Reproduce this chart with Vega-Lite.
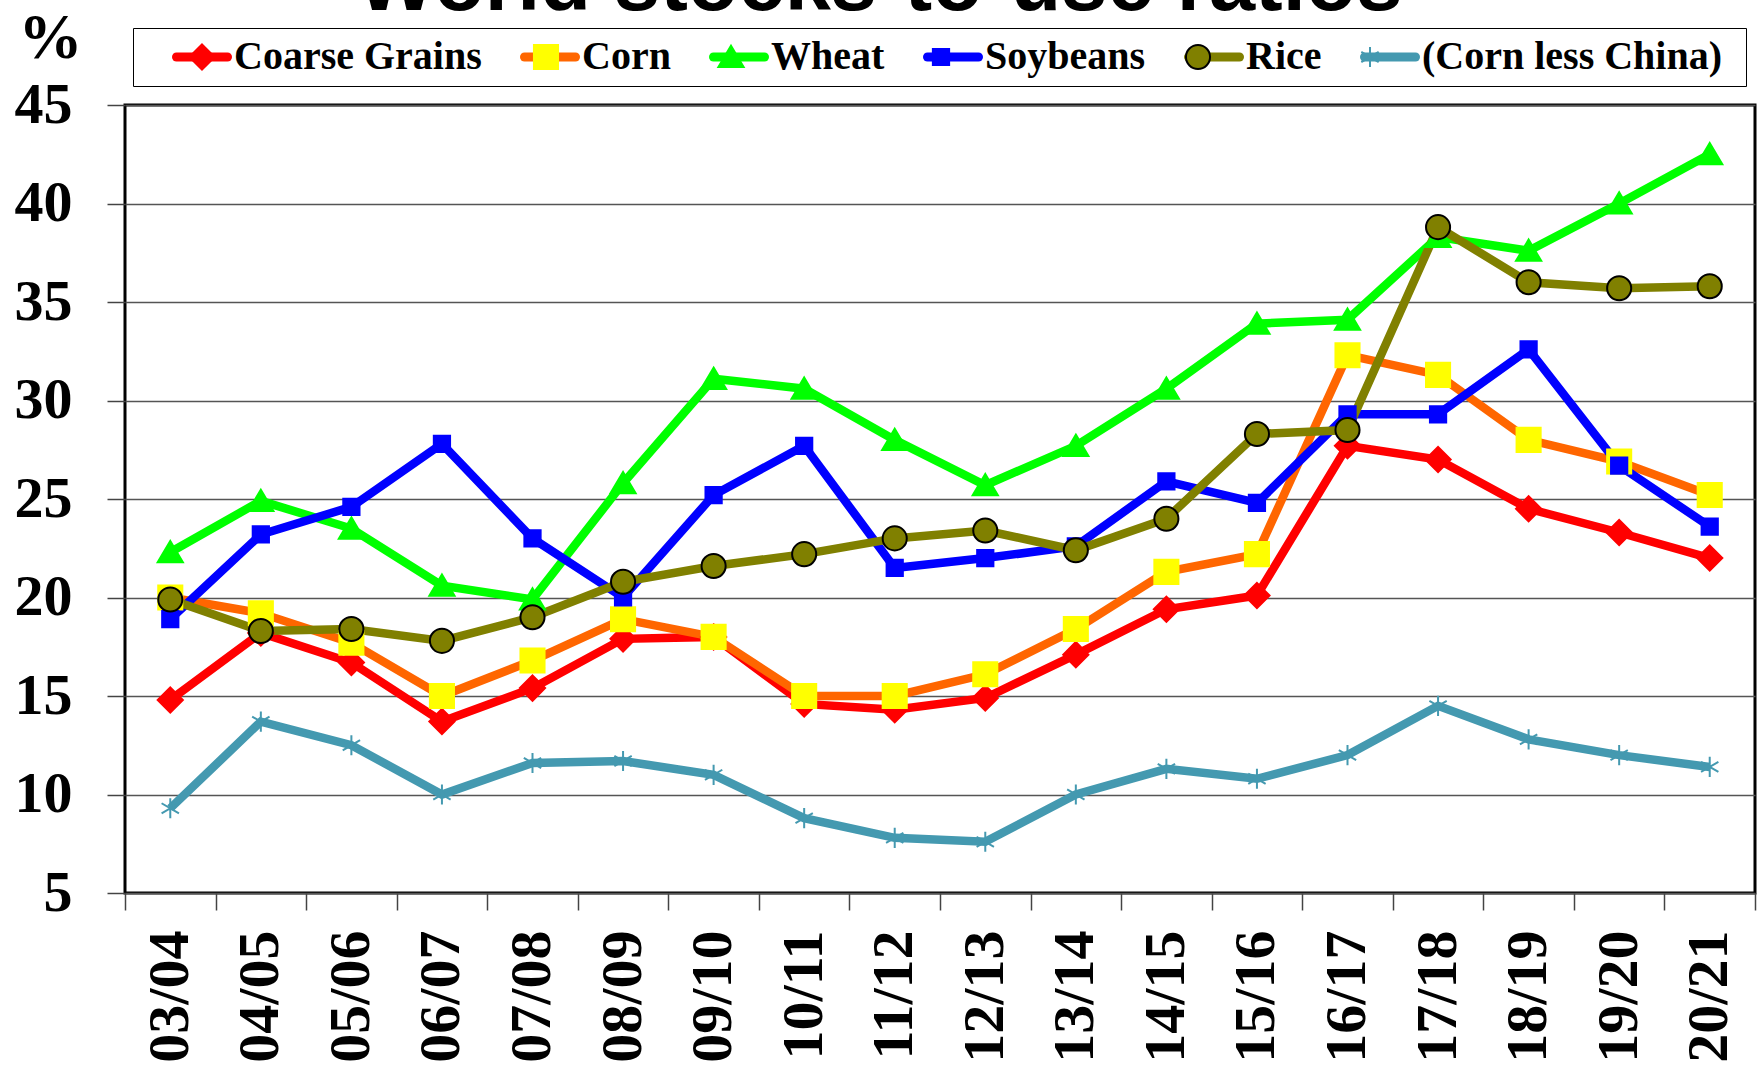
{
  "$schema": "https://vega.github.io/schema/vega-lite/v6.json",
  "width": 1630,
  "height": 788,
  "autosize": {"type": "none"},
  "padding": {"left": 125, "top": 105, "right": 7, "bottom": 177},
  "background": "white",
  "config": {"view": {"stroke": "#000", "strokeWidth": 3}},
  "title": {"text": "World stocks-to-use ratios", "font": "Liberation Sans", "fontSize": 83, "fontWeight": "bold", "color": "#000", "anchor": "middle", "dx": -60, "dy": 7, "baseline": "alphabetic", "offset": -80},
  "data": {"values": [
    {"season": "03/04", "Coarse Grains": 14.8, "Corn": 20.0, "Wheat": 22.3, "Soybeans": 18.9, "Rice": 19.9, "(Corn less China)": 9.3},
    {"season": "04/05", "Coarse Grains": 18.2, "Corn": 19.2, "Wheat": 24.9, "Soybeans": 23.2, "Rice": 18.3, "(Corn less China)": 13.7},
    {"season": "05/06", "Coarse Grains": 16.7, "Corn": 17.7, "Wheat": 23.5, "Soybeans": 24.6, "Rice": 18.4, "(Corn less China)": 12.5},
    {"season": "06/07", "Coarse Grains": 13.7, "Corn": 15.0, "Wheat": 20.6, "Soybeans": 27.8, "Rice": 17.8, "(Corn less China)": 10.0},
    {"season": "07/08", "Coarse Grains": 15.4, "Corn": 16.8, "Wheat": 19.9, "Soybeans": 23.0, "Rice": 19.0, "(Corn less China)": 11.6},
    {"season": "08/09", "Coarse Grains": 17.9, "Corn": 18.9, "Wheat": 25.8, "Soybeans": 20.0, "Rice": 20.8, "(Corn less China)": 11.7},
    {"season": "09/10", "Coarse Grains": 18.0, "Corn": 18.0, "Wheat": 31.1, "Soybeans": 25.2, "Rice": 21.6, "(Corn less China)": 11.0},
    {"season": "10/11", "Coarse Grains": 14.6, "Corn": 15.0, "Wheat": 30.6, "Soybeans": 27.7, "Rice": 22.2, "(Corn less China)": 8.8},
    {"season": "11/12", "Coarse Grains": 14.3, "Corn": 15.0, "Wheat": 28.0, "Soybeans": 21.5, "Rice": 23.0, "(Corn less China)": 7.8},
    {"season": "12/13", "Coarse Grains": 14.9, "Corn": 16.1, "Wheat": 25.7, "Soybeans": 22.0, "Rice": 23.4, "(Corn less China)": 7.6},
    {"season": "13/14", "Coarse Grains": 17.1, "Corn": 18.4, "Wheat": 27.7, "Soybeans": 22.6, "Rice": 22.4, "(Corn less China)": 10.0},
    {"season": "14/15", "Coarse Grains": 19.4, "Corn": 21.3, "Wheat": 30.6, "Soybeans": 25.9, "Rice": 24.0, "(Corn less China)": 11.3},
    {"season": "15/16", "Coarse Grains": 20.1, "Corn": 22.2, "Wheat": 33.9, "Soybeans": 24.8, "Rice": 28.3, "(Corn less China)": 10.8},
    {"season": "16/17", "Coarse Grains": 27.7, "Corn": 32.3, "Wheat": 34.1, "Soybeans": 29.3, "Rice": 28.5, "(Corn less China)": 12.0},
    {"season": "17/18", "Coarse Grains": 27.0, "Corn": 31.3, "Wheat": 38.3, "Soybeans": 29.3, "Rice": 38.8, "(Corn less China)": 14.5},
    {"season": "18/19", "Coarse Grains": 24.5, "Corn": 28.0, "Wheat": 37.6, "Soybeans": 32.6, "Rice": 36.0, "(Corn less China)": 12.8},
    {"season": "19/20", "Coarse Grains": 23.3, "Corn": 26.9, "Wheat": 40.0, "Soybeans": 26.7, "Rice": 35.7, "(Corn less China)": 12.0},
    {"season": "20/21", "Coarse Grains": 22.0, "Corn": 25.2, "Wheat": 42.5, "Soybeans": 23.6, "Rice": 35.8, "(Corn less China)": 11.4}
  ]},
  "transform": [
    {"fold": ["Coarse Grains", "Corn", "Wheat", "Soybeans", "Rice", "(Corn less China)"], "as": ["series", "value"]}
  ],
  "encoding": {
    "x": {
      "field": "season", "type": "ordinal", "sort": null, "bandPosition": 0.5,
      "scale": {"type": "band", "paddingInner": 0, "paddingOuter": 0},
      "axis": {"title": null, "labelAngle": -90, "labelFont": "Liberation Serif", "labelFontSize": 58, "labelFontWeight": "bold", "labelColor": "#000", "labelPadding": 20, "tickBand": "extent", "tickSize": 17, "tickColor": "#444", "tickWidth": 1.5, "domain": false, "grid": false}
    },
    "y": {
      "field": "value", "type": "quantitative",
      "scale": {"domain": [5, 45], "nice": false, "zero": false},
      "axis": {"values": [5, 10, 15, 20, 25, 30, 35, 40, 45], "title": "%", "titleAngle": 0, "titleX": -75, "titleY": -48, "titleAlign": "center", "titleBaseline": "alphabetic", "titleFont": "Liberation Serif", "titleFontSize": 64, "titleFontWeight": "bold", "titleColor": "#000", "labelFont": "Liberation Serif", "labelFontSize": 58, "labelFontWeight": "bold", "labelColor": "#000", "labelPadding": 35, "tickSize": 18, "tickColor": "#444", "tickWidth": 1.5, "domain": false, "grid": true, "gridColor": "#555", "gridWidth": 1.5}
    }
  },
  "layer": [
    {
      "mark": {"type": "line", "strokeWidth": 8.5},
      "encoding": {
        "strokeWidth": {"condition": {"test": "datum.series == '(Corn less China)'", "value": 5.5}, "value": 8.5},
        "color": {"field": "series", "type": "nominal", "sort": null,
          "scale": {"range": ["#ff0000", "#ff6600", "#00ff00", "#0000ff", "#808000", "#4499b0"]},
          "legend": {"orient": "none", "legendX": 47, "legendY": -78, "direction": "horizontal", "columns": 6, "columnPadding": 24, "padding": 0, "title": null, "symbolType": "stroke", "symbolSize": 2601, "symbolStrokeWidth": 9, "labelFont": "Liberation Serif", "labelFontSize": 40, "labelFontWeight": "bold", "labelColor": "#000", "labelOffset": 2, "labelLimit": 0, "zindex": 1,
            "encode": {"symbols": {"update": {"strokeCap": {"value": "round"}, "strokeWidth": {"value": 9}}}}}
        }
      }
    },
    {
      "mark": {"type": "point", "filled": true, "opacity": 1, "strokeWidth": 2, "size": 784},
      "encoding": {
        "shape": {"field": "series", "type": "nominal",
          "scale": {"domain": ["Coarse Grains", "Corn", "Wheat", "Soybeans", "Rice", "(Corn less China)"], "range": ["M0,-0.9L0.9,0L0,0.9L-0.9,0Z", "M-0.86,-0.86L0.86,-0.86L0.86,0.86L-0.86,0.86Z", "M0,-0.8L0.9,0.72L-0.9,0.72Z", "M-0.58,-0.58L0.58,-0.58L0.58,0.58L-0.58,0.58Z", "M0.86,0A0.86,0.86,0,1,1,-0.86,0A0.86,0.86,0,1,1,0.86,0Z", "M0,-0.72L0,0.72M-0.62,-0.36L0.62,0.36M-0.62,0.36L0.62,-0.36"]},
          "legend": {"orient": "none", "legendX": 8, "legendY": -77, "direction": "horizontal", "columns": 6, "columnPadding": 0, "padding": 9, "title": " ", "titleOrient": "left", "titleFontSize": 1, "titlePadding": 30, "symbolSize": 784, "symbolStrokeWidth": 2, "symbolOffset": 10, "labelFont": "Liberation Serif", "labelFontSize": 40, "labelFontWeight": "bold", "labelOpacity": 0, "labelColor": "rgba(0,0,0,0)", "labelOffset": 46, "labelLimit": 0, "strokeColor": "#000", "zindex": 2,
            "encode": {"symbols": {"update": {"fill": {"scale": "fill", "field": "value"}, "stroke": {"scale": "stroke", "field": "value"}, "strokeWidth": {"value": 2}, "opacity": {"value": 1}}}}}
        },
        "fill": {"field": "series", "type": "nominal",
          "scale": {"domain": ["Coarse Grains", "Corn", "Wheat", "Soybeans", "Rice", "(Corn less China)"], "range": ["#ff0000", "#ffff00", "#00ff00", "#0000ff", "#808000", "#4499b0"]},
          "legend": null
        },
        "stroke": {"field": "series", "type": "nominal",
          "scale": {"domain": ["Coarse Grains", "Corn", "Wheat", "Soybeans", "Rice", "(Corn less China)"], "range": ["#ff0000", "#ffff00", "#00ff00", "#0000ff", "#000000", "#4499b0"]},
          "legend": null
        }
      }
    }
  ]
}
